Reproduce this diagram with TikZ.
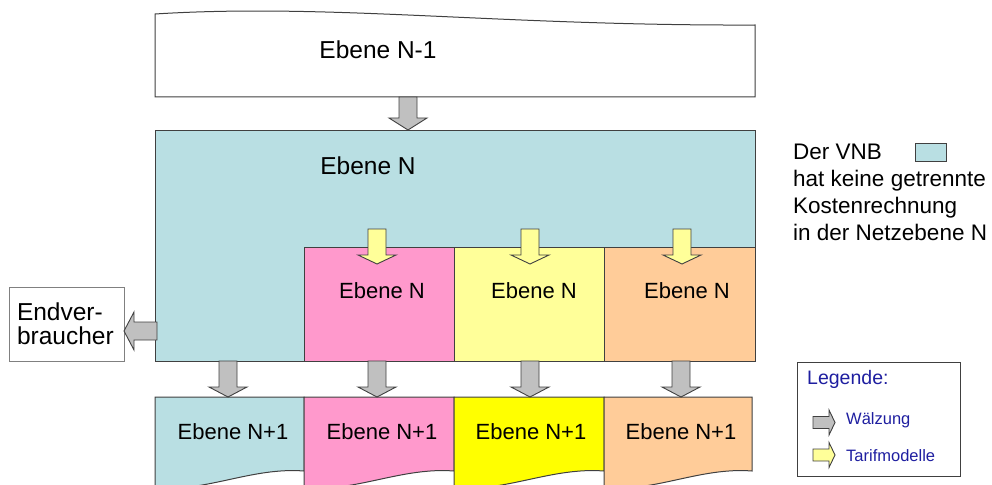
\documentclass[tikz,border=0pt]{standalone}
\usepackage{fontspec}
\setmainfont{Liberation Sans}
\usepackage{xcolor}
\usetikzlibrary{positioning}

\definecolor{netzblau}{RGB}{185,223,227}
\definecolor{netzrosa}{RGB}{255,153,204}
\definecolor{netzgelb}{RGB}{255,255,153}
\definecolor{netzorange}{RGB}{255,204,153}
\definecolor{netzgelbkraeftig}{RGB}{255,255,0}
\definecolor{pfeilgrau}{RGB}{192,192,192}
\definecolor{randgrau}{RGB}{64,64,64}
\definecolor{legblau}{RGB}{30,30,160}

\tikzset{
    kasten/.style={draw=randgrau, line width=1pt},
    pfeil/.style={draw=randgrau, line width=0.9pt, line join=miter},
    ebene/.style={inner sep=0pt, font=\fontsize{22}{26}\selectfont},
    ebenegross/.style={inner sep=0pt, font=\fontsize{24.5}{29}\selectfont},
    legtext/.style={inner sep=0pt, text=legblau, font=\fontsize{16.5}{20}\selectfont}
}

% Blockpfeil nach unten: x, y oben, y Spitze, Kopflaenge, Farbe
\newcommand{\pfeilrunter}[5]{%
    \draw[pfeil, fill=#5] (#1-9,#2) -- (#1+9,#2) -- (#1+9,#3-#4) -- (#1+19,#3-#4)
        -- (#1,#3) -- (#1-19,#3-#4) -- (#1-9,#3-#4) -- cycle;
}

\begin{document}
\begin{tikzpicture}[x=1pt, y=-1pt]
    \useasboundingbox (0,0) rectangle (992,484);

    % Ebene N-1
    \draw[kasten, fill=white] (155,97) -- (155,14) .. controls (330,3) and (500,26) .. (755,25)
        -- (755,97) -- cycle;
    \node[ebenegross] (nminus) at (378,50) {Ebene N-1};

    % Ebene N mit Teilbereichen
    \draw[kasten, fill=netzblau] (155,130) rectangle (755,361);
    \node[ebenegross] (ngross) at (368,166) {Ebene N};
    \foreach \a/\b/\farbe/\mx in {304/454/netzrosa/382, 454/604/netzgelb/534, 604/755/netzorange/687} {
        \draw[kasten, fill=\farbe] (\a,247) rectangle (\b,361);
        \node[ebene] (nteil\a) at (\mx,291) {Ebene N};
    }

    % Ebene N+1
    \foreach \a/\b/\farbe/\mx in {155/304/netzblau/233, 304/454/netzrosa/382,
                                  454/604/netzgelbkraeftig/531, 604/752/netzorange/681} {
        \draw[kasten, fill=\farbe] (\a,397) -- (\b,397) -- (\b,471)
            .. controls ({\b-0.35*(\b-\a)},467) and ({\a+0.35*(\b-\a)},492) .. (\a,488) -- cycle;
        \node[ebene] (nplus\a) at (\mx,432) {Ebene N+1};
    }

    % Waelzung
    \pfeilrunter{408}{97}{130}{12}{pfeilgrau}
    \foreach \x in {228,377,530,681} {
        \pfeilrunter{\x}{361}{397}{10}{pfeilgrau}
    }
    % Tarifmodelle
    \foreach \x in {377,530,682} {
        \pfeilrunter{\x}{229}{264}{9}{netzgelb}
    }

    % Endverbraucher
    \node[kasten, draw=gray, minimum width=115pt, minimum height=74pt, text width=99pt,
          inner sep=8pt, align=left, font=\fontsize{24.5}{24}\selectfont]
        (endv) at (66.5,324) {Endver-\\braucher};
    \draw[pfeil, fill=pfeilgrau] (157,322) -- (134,322) -- (134,312) -- (124,331)
        -- (134,350) -- (134,340) -- (157,340) -- cycle;

    % Erlaeuterung rechts
    \node[inner sep=0pt, anchor=west, align=left, font=\fontsize{22.5}{27}\selectfont]
        (vnb) at (793,192) {Der VNB\\hat keine getrennte\\Kostenrechnung\\in der Netzebene N};
    \draw[kasten, fill=netzblau] (915,143) rectangle (946,161);

    % Legende
    \draw[kasten] (797,362) rectangle (960,476);
    \node[legtext, anchor=west, font=\fontsize{19.5}{23}\selectfont] (leg) at (807,379) {Legende:};
    \draw[pfeil, fill=pfeilgrau] (813,416.5) -- (829,416.5) -- (829,410) -- (835,422.5)
        -- (829,435) -- (829,428.5) -- (813,428.5) -- cycle;
    \coordinate (lgrau) at (835,420);
    \node[legtext, anchor=west, right=11pt of lgrau] (walz) {Wälzung};
    \draw[pfeil, fill=netzgelb] (813,449) -- (829,449) -- (829,442.5) -- (835,455)
        -- (829,467.5) -- (829,461) -- (813,461) -- cycle;
    \coordinate (lgelb) at (835,456);
    \node[legtext, anchor=west, right=11pt of lgelb] (tarif) {Tarifmodelle};
\end{tikzpicture}
\end{document}
